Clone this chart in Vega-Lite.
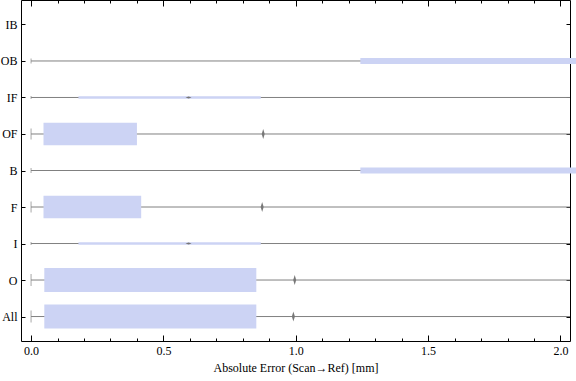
{
  "$schema": "https://vega.github.io/schema/vega-lite/v6.json",
  "width": 549,
  "height": 341,
  "autosize": {"type": "none"},
  "padding": {"left": 21, "top": 0, "right": 6, "bottom": 40},
  "background": "white",
  "config": {
    "view": {"stroke": "#000", "strokeWidth": 1},
    "font": "Liberation Serif",
    "axis": {
      "domain": false,
      "grid": false,
      "labelFont": "Liberation Serif",
      "labelFontSize": 12,
      "labelColor": "#000",
      "tickColor": "#000",
      "titleFont": "Liberation Serif",
      "titleFontSize": 12,
      "titleFontWeight": "normal",
      "titleColor": "#000"
    }
  },
  "data": {
    "values": [
      {"group": "All", "min": 0, "q1": 0.05, "q3": 0.851, "max": 2.4, "mean": 0.991},
      {"group": "O", "min": 0, "q1": 0.05, "q3": 0.851, "max": 2.4, "mean": 0.996},
      {"group": "I", "min": 0, "q1": 0.179, "q3": 0.868, "max": 2.4, "mean": 0.595},
      {"group": "F", "min": 0, "q1": 0.047, "q3": 0.416, "max": 2.4, "mean": 0.873},
      {"group": "B", "min": 0, "q1": 1.244, "q3": 2.4, "max": 2.4, "mean": null},
      {"group": "OF", "min": 0, "q1": 0.047, "q3": 0.4, "max": 2.4, "mean": 0.877},
      {"group": "IF", "min": 0, "q1": 0.179, "q3": 0.868, "max": 2.4, "mean": 0.595},
      {"group": "OB", "min": 0, "q1": 1.244, "q3": 2.4, "max": 2.4, "mean": null}
    ]
  },
  "resolve": {
    "axis": {"x": "independent", "y": "independent"},
    "scale": {"size": "independent"}
  },
  "layer": [
    {
      "mark": {"type": "rule", "color": "#808080", "strokeWidth": 1, "clip": true},
      "encoding": {
        "x": {
          "field": "min", "type": "quantitative",
          "scale": {"domain": [-0.038, 2.036], "nice": false, "zero": false},
          "axis": {
            "orient": "bottom", "values": [0, 0.5, 1, 1.5, 2], "format": ".1f",
            "tickSize": -6, "labelPadding": 10,
            "title": "Absolute Error (Scan→Ref) [mm]", "titlePadding": 6
          }
        },
        "x2": {"field": "max"},
        "y": {
          "field": "group", "type": "nominal",
          "scale": {"type": "point", "domain": ["IB", "OB", "IF", "OF", "B", "F", "I", "O", "All"], "padding": 0.67},
          "axis": {"orient": "left", "tickSize": -4, "labelPadding": 8, "title": null}
        }
      }
    },
    {
      "mark": {"type": "tick", "color": "#808080", "thickness": 1, "orient": "vertical"},
      "encoding": {
        "x": {
          "field": "min", "type": "quantitative",
          "axis": {
            "orient": "bottom",
            "values": [0.1, 0.2, 0.3, 0.4, 0.6, 0.7, 0.8, 0.9, 1.1, 1.2, 1.3, 1.4, 1.6, 1.7, 1.8, 1.9],
            "tickSize": -3, "labels": false, "title": null
          }
        },
        "y": {
          "field": "group", "type": "nominal",
          "axis": {"orient": "right", "tickSize": -4, "labels": false, "title": null}
        },
        "size": {
          "field": "group", "type": "ordinal", "legend": null,
          "scale": {"type": "ordinal", "domain": ["All", "O", "OF", "F", "OB", "B", "IF", "I"], "range": [12, 12, 11, 11, 5, 5, 3, 3]}
        }
      }
    },
    {
      "mark": {"type": "bar", "color": "#CCD3F4", "clip": false},
      "encoding": {
        "x": {
          "field": "q1", "type": "quantitative",
          "axis": {"orient": "top", "values": [0, 0.5, 1, 1.5, 2], "tickSize": -6, "labels": false, "title": null}
        },
        "x2": {"field": "q3"},
        "y": {"field": "group", "type": "nominal", "axis": null},
        "size": {
          "field": "group", "type": "ordinal", "legend": null,
          "scale": {"type": "ordinal", "domain": ["All", "O", "OF", "F", "OB", "B", "IF", "I"], "range": [24, 24, 22.5, 22.5, 6, 6, 2.5, 2.5]}
        }
      }
    },
    {
      "transform": [{"filter": "isValid(datum.mean)"}],
      "mark": {"type": "point", "filled": true, "color": "#777777", "opacity": 1, "size": 100},
      "encoding": {
        "x": {
          "field": "mean", "type": "quantitative",
          "axis": {
            "orient": "top",
            "values": [0.1, 0.2, 0.3, 0.4, 0.6, 0.7, 0.8, 0.9, 1.1, 1.2, 1.3, 1.4, 1.6, 1.7, 1.8, 1.9],
            "tickSize": -3, "labels": false, "title": null
          }
        },
        "y": {"field": "group", "type": "nominal", "axis": null},
        "shape": {
          "field": "group", "type": "nominal", "legend": null,
          "scale": {
            "domain": ["All", "O", "OF", "F", "IF", "I"],
            "range": ["M0,-1L0.3,0L0,1L-0.3,0Z", "M0,-1L0.3,0L0,1L-0.3,0Z", "M0,-1L0.3,0L0,1L-0.3,0Z", "M0,-1L0.3,0L0,1L-0.3,0Z", "M-0.6,0L0,0.2L0.6,0L0,-0.2Z", "M-0.6,0L0,0.2L0.6,0L0,-0.2Z"]
          }
        }
      }
    }
  ]
}
